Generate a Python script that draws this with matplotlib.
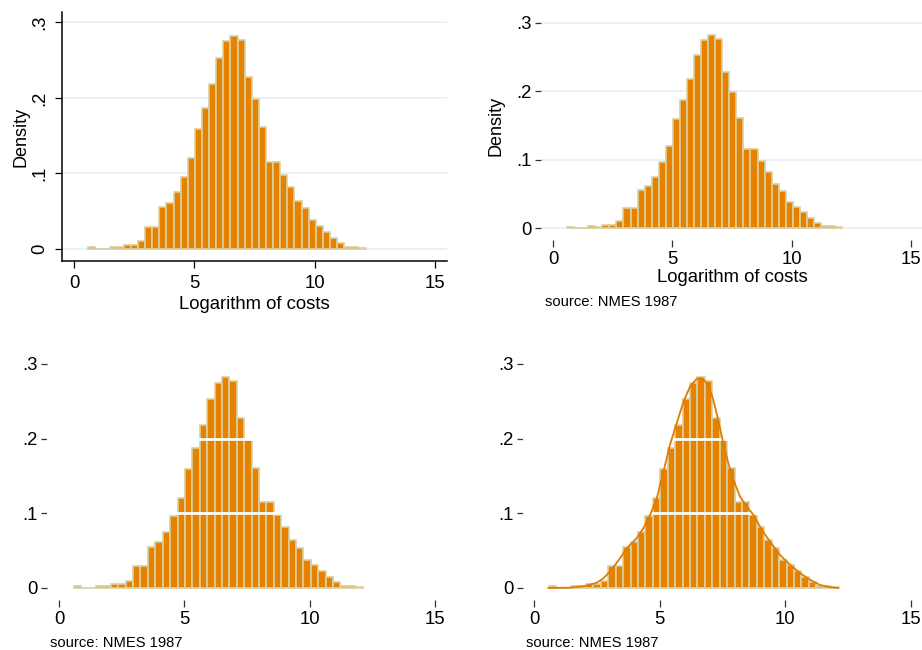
import numpy as np
import matplotlib
matplotlib.use("Agg")
import matplotlib.pyplot as plt

plt.rcParams['font.family'] = ['Liberation Sans', 'DejaVu Sans']

# Histogram of log costs (39 equal bins from min to max)
bin_min = 0.59
bin_max = 12.115
density = [0.002, 0.0, 0.0, 0.003, 0.002, 0.005, 0.005, 0.010, 0.029, 0.029,
           0.055, 0.061, 0.075, 0.096, 0.120, 0.159, 0.187, 0.218, 0.253, 0.275,
           0.282, 0.277, 0.228, 0.199, 0.161, 0.115, 0.115, 0.098, 0.082, 0.064,
           0.054, 0.038, 0.031, 0.023, 0.015, 0.008, 0.003, 0.003, 0.001]

# Kernel density curve
kde_x = [0.57, 1.43, 2.03, 2.49, 2.76, 3.02, 3.32, 3.69, 4.09, 4.35, 4.62, 4.88,
         5.15, 5.41, 5.68, 5.94, 6.21, 6.47, 6.67, 6.94, 7.13, 7.33, 7.53, 7.73,
         7.93, 8.20, 8.46, 8.73, 9.06, 9.39, 9.79, 10.19, 10.58, 10.98, 11.38,
         11.78, 12.10]
kde_y = [0.0, 0.0004, 0.0027, 0.007, 0.013, 0.022, 0.035, 0.053, 0.067, 0.080,
         0.098, 0.120, 0.156, 0.192, 0.221, 0.249, 0.270, 0.280, 0.281, 0.272,
         0.252, 0.225, 0.194, 0.167, 0.145, 0.122, 0.109, 0.098, 0.078, 0.062,
         0.044, 0.031, 0.020, 0.011, 0.004, 0.001, 0.0]

x_ticks = [0, 5, 10, 15]
y_ticks = [0, 0.1, 0.2, 0.3]
y_tick_labels = ['0', '.1', '.2', '.3']
x_label = 'Logarithm of costs'
y_label = 'Density'
source = 'source: NMES 1987'

bar_fill = '#E68200'
bar_edge = '#D8D0A0'
grid_col = '#E8F0F2'

edges = np.linspace(bin_min, bin_max, len(density) + 1)
W, H = 922, 650

fig = plt.figure(figsize=(9.22, 6.5), dpi=100)


def px_axes(l, t, r, b):
    return fig.add_axes([l / W, 1 - b / H, (r - l) / W, (b - t) / H])


def draw_bars(ax):
    ax.bar(edges[:-1], density, width=np.diff(edges), align='edge',
           color=bar_fill, edgecolor=bar_edge, linewidth=1.2, zorder=2)


# top-left: classic axes
ax1 = px_axes(62, 12, 447, 261)
draw_bars(ax1)
for y in y_ticks:
    ax1.axhline(y, color=grid_col, lw=1.2, zorder=1)
ax1.set_xlim(-0.5, 15.5)
ax1.set_ylim(-0.0159, 0.3139)
for s in ['top', 'right']:
    ax1.spines[s].set_visible(False)
for s in ['left', 'bottom']:
    ax1.spines[s].set_linewidth(1.1)
ax1.set_xticks(x_ticks)
ax1.set_yticks(y_ticks)
ax1.set_yticklabels(y_tick_labels, rotation=90, va='center')
ax1.tick_params(axis='both', labelsize=13.3, length=5, width=0.9, pad=5)
ax1.set_xlabel(x_label, fontsize=13.3, labelpad=3)
ax1.set_ylabel(y_label, fontsize=13, labelpad=1)

# top-right: no axis lines
ax2 = px_axes(541, 12, 923, 240)
draw_bars(ax2)
for y in y_ticks:
    ax2.axhline(y, color=grid_col, lw=1.2, zorder=1)
ax2.set_xlim(-0.5, 15.5)
ax2.set_ylim(-0.0175, 0.3158)
ax2.set_xlabel(x_label, fontsize=13.3, labelpad=1)
ax2.set_ylabel(y_label, fontsize=13, labelpad=8)
fig.text(545 / W, 1 - 302 / H, source, fontsize=10.6, va='center', ha='left')

# bottom panels: white grid over the bars
ax3 = px_axes(47, 352, 447.5, 600)
draw_bars(ax3)
ax3.set_xlim(-0.48, 15.5)
fig.text(50 / W, 1 - 643 / H, source, fontsize=10.6, va='center', ha='left')

ax4 = px_axes(523, 352, 923.6, 600)
draw_bars(ax4)
ax4.plot(kde_x, kde_y, color='#E07C00', lw=1.3, zorder=4)
ax4.set_xlim(-0.44, 15.5)
fig.text(526 / W, 1 - 643 / H, source, fontsize=10.6, va='center', ha='left')

for ax in [ax3, ax4]:
    ax.set_ylim(-0.0161, 0.316)
    for y in [0.1, 0.2]:
        ax.axhline(y, color='white', lw=2.0, zorder=3)

for ax in [ax2, ax3, ax4]:
    for s in ax.spines.values():
        s.set_visible(False)
    ax.set_xticks(x_ticks)
    ax.set_yticks(y_ticks)
    ax.set_yticklabels(y_tick_labels)
    ax.tick_params(axis='x', labelsize=13.3, length=5, width=0.9, pad=3,
                   color='#333333')
    ax.tick_params(axis='y', labelsize=13.3, length=4.3, width=0.9, pad=2.5,
                   color='#333333')

fig.savefig('out.png', dpi=100)
